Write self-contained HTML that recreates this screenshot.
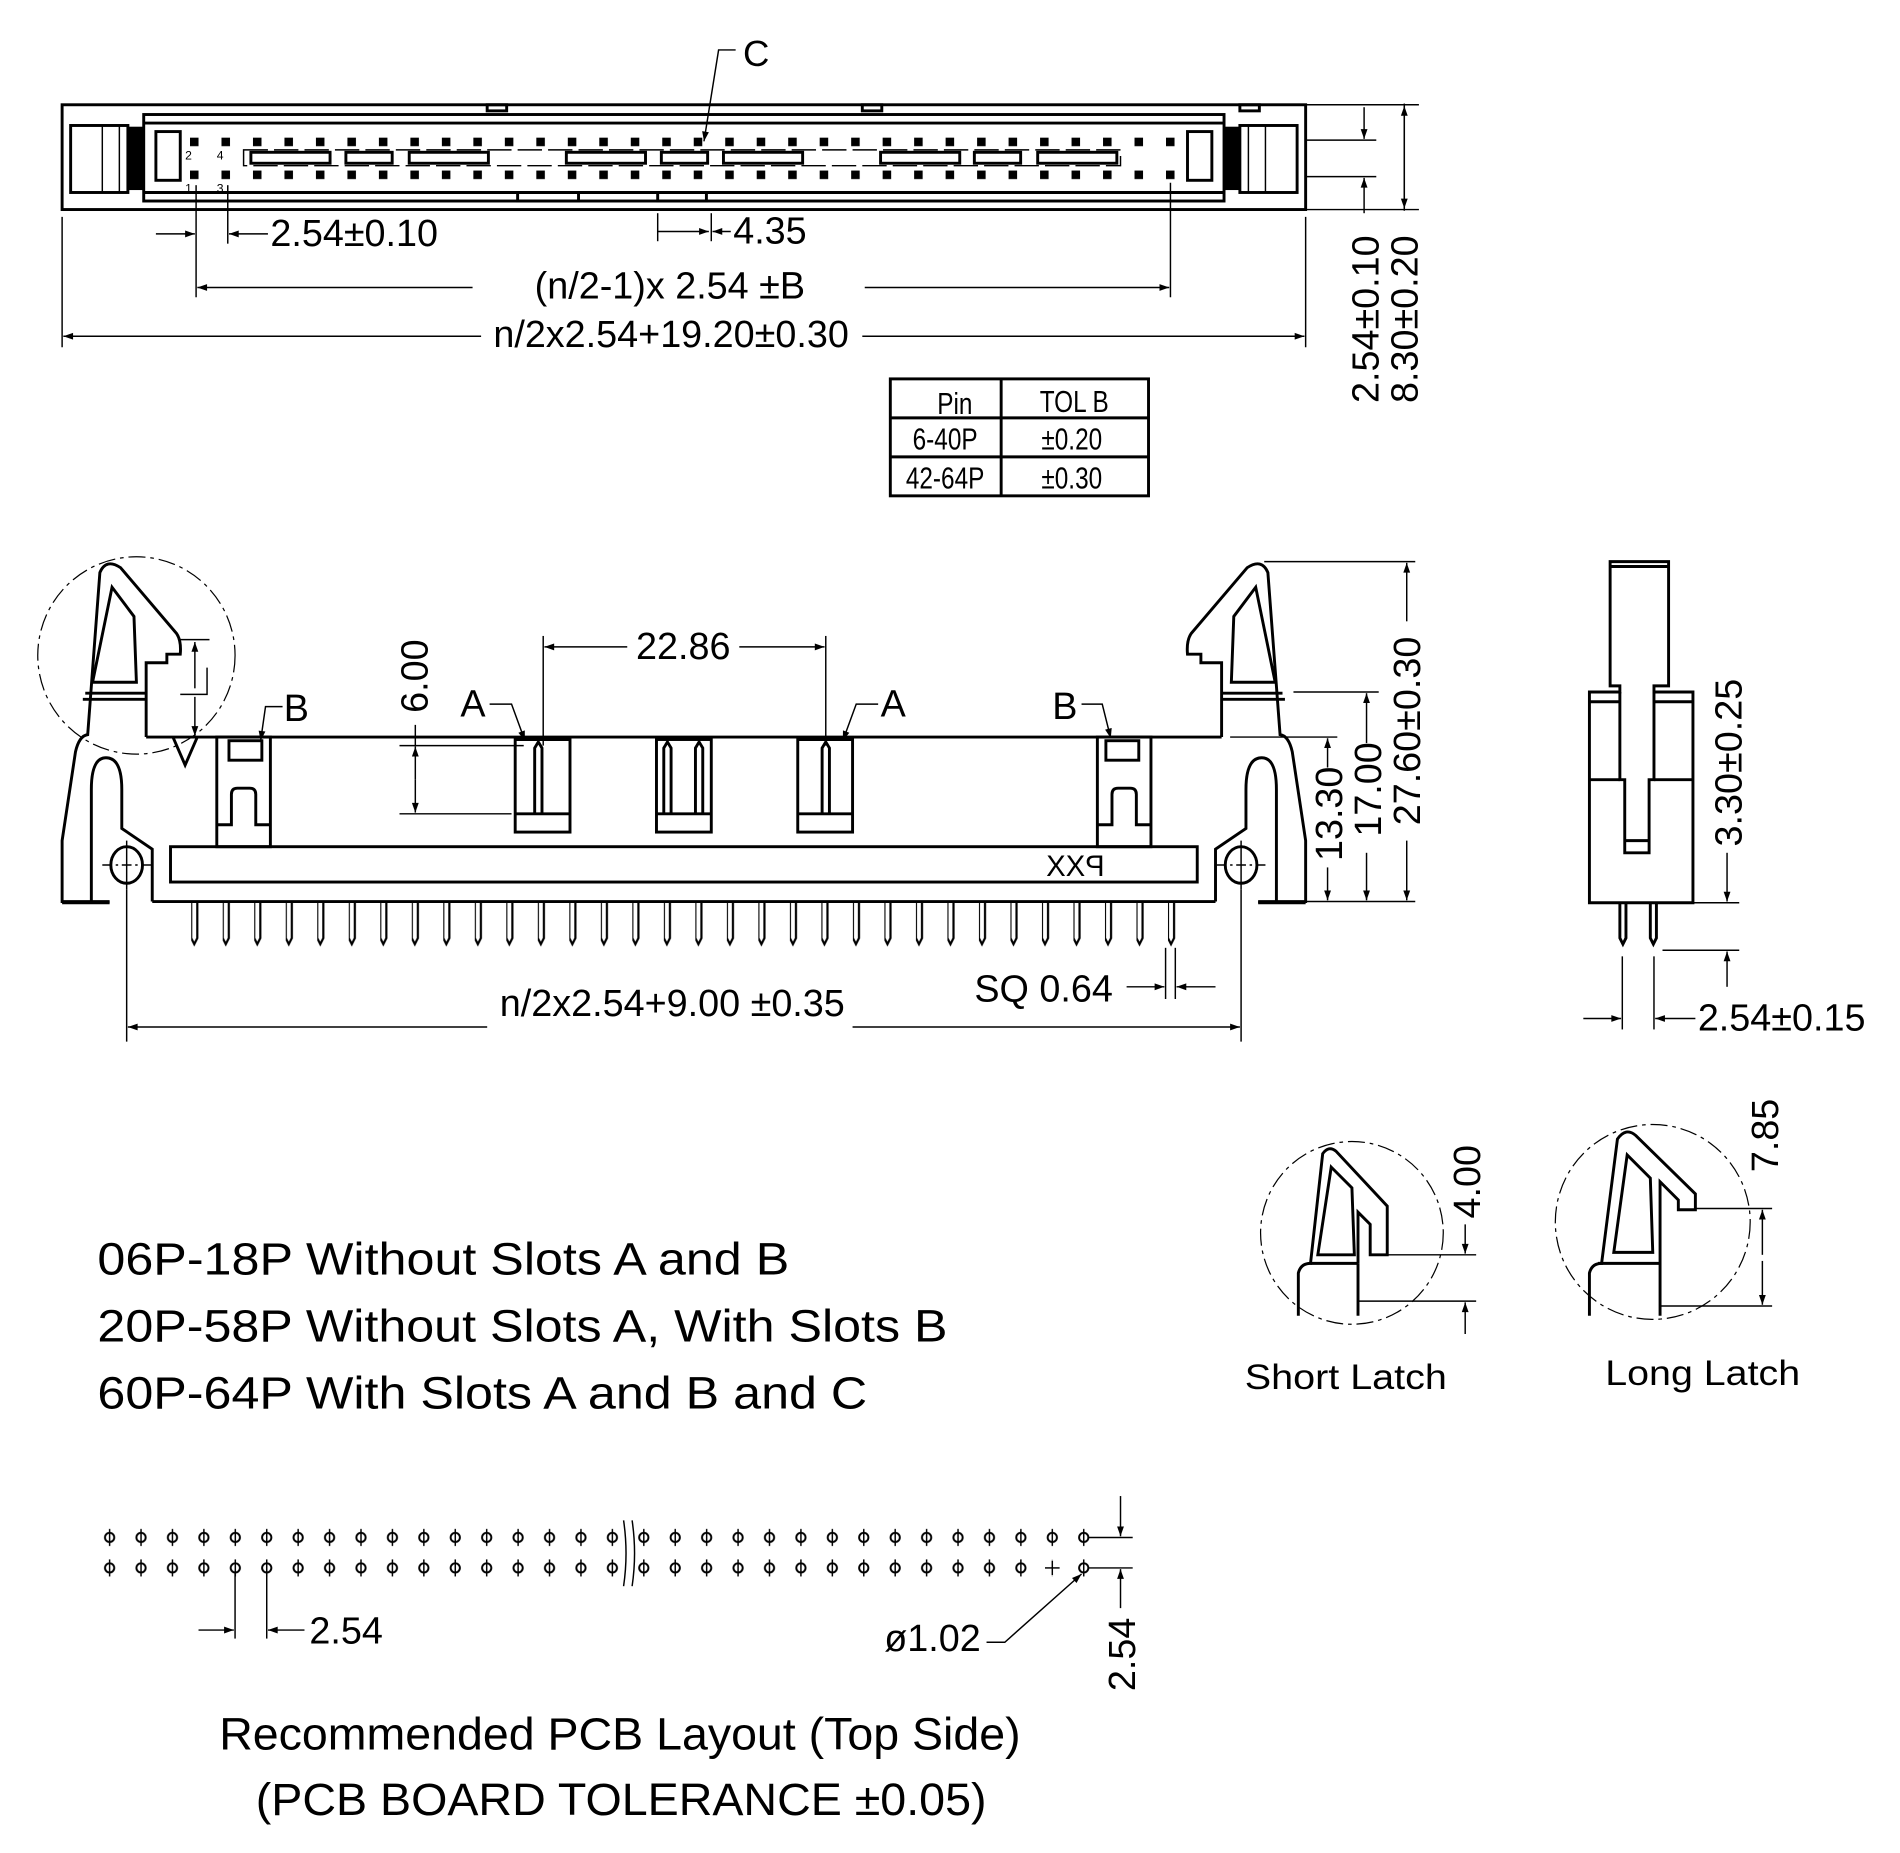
<!DOCTYPE html>
<html><head><meta charset="utf-8"><style>
html,body{margin:0;padding:0;background:#fff;}
svg{display:block;}
text{font-family:"Liberation Sans",Arial,sans-serif;fill:#000;}
.o{fill:none;stroke:#000;stroke-width:2.4;}
.t{fill:none;stroke:#000;stroke-width:1.2;}
.d{fill:none;stroke:#000;stroke-width:1;stroke-dasharray:14 4 3 4;}
</style></head><body>
<svg width="1900" height="1853" viewBox="0 0 1560 1521" preserveAspectRatio="none" xmlns="http://www.w3.org/2000/svg">
<defs>
<marker id="a" viewBox="0 0 10 10" refX="10" refY="5" markerWidth="16" markerHeight="8" markerUnits="userSpaceOnUse" orient="auto"><path d="M0,1.5 L10,5 L0,8.5Z" fill="#000"/></marker>
<pattern id="pins" x="157" y="0" width="25.87" height="800" patternUnits="userSpaceOnUse">
<path d="M0,740 V770 L2.5,775 L5,770 V740" fill="none" stroke="#000" stroke-width="1.8"/></pattern>
<pattern id="sq" x="156" y="0" width="25.85" height="200" patternUnits="userSpaceOnUse">
<rect x="0" y="113" width="7" height="7" fill="#000"/><rect x="0" y="140" width="7" height="7" fill="#000"/></pattern>
<pattern id="dots" x="77.1" y="0" width="25.8" height="1400" patternUnits="userSpaceOnUse">
<circle cx="12.9" cy="1262" r="3.8" fill="none" stroke="#000" stroke-width="1.6"/><line x1="12.9" y1="1255" x2="12.9" y2="1269" stroke="#000" stroke-width="1.2"/>
<circle cx="12.9" cy="1287" r="3.8" fill="none" stroke="#000" stroke-width="1.6"/><line x1="12.9" y1="1280" x2="12.9" y2="1294" stroke="#000" stroke-width="1.2"/></pattern>
</defs>

<!-- ===== TOP VIEW ===== -->
<rect class="o" x="51" y="86" width="1021" height="86"/>
<rect class="o" x="118" y="94" width="887" height="71"/>
<line class="o" x1="118" y1="101" x2="1005" y2="101" stroke-width="4"/>
<line class="o" x1="118" y1="158" x2="1005" y2="158" stroke-width="4"/>
<rect class="o" x="58" y="103" width="47" height="55"/>
<line class="t" x1="84" y1="103" x2="84" y2="158"/><line class="t" x1="98" y1="103" x2="98" y2="158"/>
<rect x="105" y="104" width="13" height="52" fill="#000"/>
<rect class="o" x="128" y="108" width="20" height="40" stroke-width="4"/>
<rect class="o" x="1018" y="103" width="47" height="55"/>
<line class="t" x1="1039" y1="103" x2="1039" y2="158"/><line class="t" x1="1025" y1="103" x2="1025" y2="158"/>
<rect x="1005" y="104" width="13" height="52" fill="#000"/>
<rect class="o" x="975" y="108" width="20" height="40" stroke-width="4"/>
<rect x="156" y="104" width="812" height="50" fill="url(#sq)"/>
<rect class="t" x="200" y="123" width="720" height="13" stroke-dasharray="20 5"/>
<rect class="o" x="206" y="125" width="65" height="9"/><rect class="o" x="284" y="125" width="38" height="9"/><rect class="o" x="336" y="125" width="65" height="9"/>
<rect class="o" x="465" y="125" width="65" height="9"/><rect class="o" x="543" y="125" width="38" height="9"/><rect class="o" x="594" y="125" width="65" height="9"/>
<rect class="o" x="723" y="125" width="65" height="9"/><rect class="o" x="800" y="125" width="38" height="9"/><rect class="o" x="852" y="125" width="65" height="9"/>
<text x="152" y="131" font-size="10" font-family="Liberation Serif">2</text><text x="178" y="131" font-size="10" font-family="Liberation Serif">4</text>
<text x="152" y="158" font-size="10" font-family="Liberation Serif">1</text><text x="178" y="158" font-size="10" font-family="Liberation Serif">3</text>
<rect class="o" x="400" y="86" width="16" height="5"/><rect class="o" x="708" y="86" width="16" height="5"/><rect class="o" x="1018" y="86" width="16" height="5"/>
<rect class="o" x="540" y="158" width="40" height="7" stroke-width="1.5"/><rect class="o" x="425" y="158" width="50" height="7" stroke-width="1.5"/>
<!-- C -->
<text x="610" y="54" font-size="30">C</text>
<polyline class="t" points="604,41 590,41 578,116" marker-end="url(#a)"/>
<!-- top dims -->
<line class="t" x1="51" y1="178" x2="51" y2="285"/>
<line class="t" x1="161" y1="152" x2="161" y2="244"/><line class="t" x1="187" y1="152" x2="187" y2="200"/>
<line class="t" x1="128" y1="192" x2="160" y2="192" marker-end="url(#a)"/><line class="t" x1="220" y1="192" x2="188" y2="192" marker-end="url(#a)"/>
<text x="222" y="202" font-size="31">2.54±0.10</text>
<line class="t" x1="540" y1="175" x2="540" y2="198"/><line class="t" x1="584" y1="175" x2="584" y2="198"/>
<line class="t" x1="540" y1="190" x2="582" y2="190" marker-end="url(#a)"/><line class="t" x1="600" y1="190" x2="585" y2="190" marker-end="url(#a)"/>
<text x="602" y="200" font-size="31">4.35</text>
<line class="t" x1="961" y1="150" x2="961" y2="244"/>
<line class="t" x1="388" y1="236" x2="162" y2="236" marker-end="url(#a)"/><line class="t" x1="710" y1="236" x2="960" y2="236" marker-end="url(#a)"/>
<text x="550" y="245" font-size="31" text-anchor="middle">(n/2-1)x 2.54 ±B</text>
<line class="t" x1="1072" y1="178" x2="1072" y2="285"/>
<line class="t" x1="395" y1="276" x2="52" y2="276" marker-end="url(#a)"/><line class="t" x1="708" y1="276" x2="1071" y2="276" marker-end="url(#a)"/>
<text x="551" y="285" font-size="31" text-anchor="middle">n/2x2.54+19.20±0.30</text>
<!-- right side dims top -->
<line class="t" x1="1072" y1="86" x2="1165" y2="86"/><line class="t" x1="1072" y1="172" x2="1165" y2="172"/>
<line class="t" x1="1072" y1="115" x2="1130" y2="115"/><line class="t" x1="1072" y1="145" x2="1130" y2="145"/>
<line class="t" x1="1120" y1="88" x2="1120" y2="114" marker-end="url(#a)"/><line class="t" x1="1120" y1="175" x2="1120" y2="146" marker-end="url(#a)"/>
<line class="t" x1="1153" y1="173" x2="1153" y2="87" marker-end="url(#a)"/><line class="t" x1="1153" y1="85" x2="1153" y2="171" marker-end="url(#a)"/>
<text transform="translate(1132,262) rotate(-90)" font-size="31" text-anchor="middle">2.54±0.10</text>
<text transform="translate(1164,262) rotate(-90)" font-size="31" text-anchor="middle">8.30±0.20</text>
<!-- table -->
<rect class="o" x="731" y="311" width="212" height="96"/>
<line class="o" x1="822" y1="311" x2="822" y2="407"/><line class="o" x1="731" y1="343" x2="943" y2="343"/><line class="o" x1="731" y1="375" x2="943" y2="375"/>
<text x="784" y="340" font-size="25" text-anchor="middle" transform="translate(784,0) scale(0.8,1) translate(-784,0)">Pin</text>
<text x="882" y="338" font-size="25" text-anchor="middle" transform="translate(882,0) scale(0.8,1) translate(-882,0)">TOL B</text>
<text x="776" y="369" font-size="25" text-anchor="middle" transform="translate(776,0) scale(0.8,1) translate(-776,0)">6-40P</text>
<text x="880" y="369" font-size="25" text-anchor="middle" transform="translate(880,0) scale(0.8,1) translate(-880,0)">±0.20</text>
<text x="776" y="401" font-size="25" text-anchor="middle" transform="translate(776,0) scale(0.8,1) translate(-776,0)">42-64P</text>
<text x="880" y="401" font-size="25" text-anchor="middle" transform="translate(880,0) scale(0.8,1) translate(-880,0)">±0.30</text>

<!-- ===== FRONT VIEW ===== -->
<g id="lat">
<path class="o" d="M90,740 H51 V690 L62,617 Q65,604 72,603 L82,470 Q87,458 99,466 L145,520 Q149,526 148,537 H137 V544 H120 V605"/>
<polygon class="o" points="92,482 110,506 112,560 76,560"/>
<line class="o" x1="70" y1="569" x2="120" y2="569"/><line class="o" x1="68" y1="574" x2="120" y2="574"/>
<path class="o" d="M75,740 V648 Q75,622 87,622 Q100,622 100,648 V680 L125,697 V740"/>
<ellipse class="o" cx="104" cy="710" rx="13" ry="15"/>
<line class="t" x1="104" y1="690" x2="104" y2="730"/><line class="t" x1="84" y1="710" x2="124" y2="710" stroke-dasharray="8 3 2 3"/>
<line class="o" x1="51" y1="741" x2="90" y2="741" stroke-width="4"/>
<rect class="o" x="178" y="605" width="44" height="90"/>
<rect class="o" x="188" y="608" width="27" height="16" stroke-width="3"/>
<path class="o" d="M178,677 H190 V652 Q190,647 195,647 H205 Q210,647 210,652 V677 H222" stroke-width="3"/>
</g>
<use href="#lat" transform="translate(1123,0) scale(-1,1)"/>
<polyline class="o" points="142,605 152,628 162,605"/>
<line class="t" x1="104" y1="730" x2="104" y2="855"/>
<line class="t" x1="1019" y1="730" x2="1019" y2="855"/>
<circle class="d" cx="112" cy="538" r="81"/>
<line class="t" x1="148" y1="525" x2="172" y2="525"/><line class="t" x1="160" y1="565" x2="160" y2="527" marker-end="url(#a)"/>
<polyline class="t" points="148,570 170,570 170,548"/><line class="t" x1="160" y1="572" x2="160" y2="604" marker-end="url(#a)"/>
<line class="o" x1="120" y1="605" x2="1003" y2="605"/>
<rect class="o" x="140" y="695" width="843" height="29"/>
<line class="o" x1="125" y1="740" x2="998" y2="740"/>
<text x="0" y="0" font-size="24" transform="translate(907,719) scale(-1,1)">PXX</text>
<rect x="152" y="740" width="820" height="40" fill="url(#pins)"/>
<!-- A slots -->
<rect class="o" x="423" y="607" width="45" height="76"/><line class="o" x1="423" y1="668" x2="468" y2="668"/>
<path class="o" d="M439,668 V614 L442,609 L445,614 V668" stroke-width="2"/>
<rect class="o" x="539" y="607" width="45" height="76"/><line class="o" x1="539" y1="668" x2="584" y2="668"/>
<path class="o" d="M545,668 V614 L548,609 L551,614 V668" stroke-width="2"/><path class="o" d="M571,668 V614 L574,609 L577,614 V668" stroke-width="2"/>
<rect class="o" x="655" y="607" width="45" height="76"/><line class="o" x1="655" y1="668" x2="700" y2="668"/>
<path class="o" d="M675,668 V614 L678,609 L681,614 V668" stroke-width="2"/>
<line class="o" x1="423" y1="607" x2="468" y2="607" stroke-width="4"/><line class="o" x1="655" y1="607" x2="700" y2="607" stroke-width="4"/>
<!-- 22.86 -->
<line class="t" x1="446" y1="522" x2="446" y2="612"/><line class="t" x1="678" y1="522" x2="678" y2="612"/>
<line class="t" x1="515" y1="531" x2="447" y2="531" marker-end="url(#a)"/><line class="t" x1="607" y1="531" x2="677" y2="531" marker-end="url(#a)"/>
<text x="561" y="541" font-size="31" text-anchor="middle">22.86</text>
<!-- 6.00 -->
<line class="t" x1="328" y1="612" x2="430" y2="612"/><line class="t" x1="328" y1="668" x2="420" y2="668"/>
<line class="t" x1="341" y1="595" x2="341" y2="613" /><line class="t" x1="341" y1="640" x2="341" y2="613" marker-end="url(#a)"/><line class="t" x1="341" y1="640" x2="341" y2="667" marker-end="url(#a)"/>
<text transform="translate(351,555) rotate(-90)" font-size="31" text-anchor="middle">6.00</text>
<!-- labels -->
<text x="378" y="588" font-size="31">A</text><polyline class="t" points="402,578 420,578 431,608" marker-end="url(#a)"/>
<text x="723" y="588" font-size="31">A</text><polyline class="t" points="721,578 703,578 692,608" marker-end="url(#a)"/>
<text x="233" y="592" font-size="31">B</text><polyline class="t" points="232,580 218,580 214,608" marker-end="url(#a)"/>
<text x="864" y="590" font-size="31">B</text><polyline class="t" points="888,578 905,578 912,606" marker-end="url(#a)"/>
<!-- right dims -->
<line class="t" x1="1038" y1="461" x2="1162" y2="461"/><line class="t" x1="1062" y1="568" x2="1132" y2="568"/>
<line class="t" x1="1010" y1="605" x2="1098" y2="605"/><line class="t" x1="1072" y1="740" x2="1162" y2="740"/>
<line class="t" x1="1090" y1="630" x2="1090" y2="606" marker-end="url(#a)"/><line class="t" x1="1090" y1="712" x2="1090" y2="739" marker-end="url(#a)"/>
<line class="t" x1="1122" y1="610" x2="1122" y2="569" marker-end="url(#a)"/><line class="t" x1="1122" y1="700" x2="1122" y2="739" marker-end="url(#a)"/>
<line class="t" x1="1155" y1="510" x2="1155" y2="462" marker-end="url(#a)"/><line class="t" x1="1155" y1="690" x2="1155" y2="739" marker-end="url(#a)"/>
<text transform="translate(1102,668) rotate(-90)" font-size="31" text-anchor="middle">13.30</text>
<text transform="translate(1134,648) rotate(-90)" font-size="31" text-anchor="middle">17.00</text>
<text transform="translate(1166,600) rotate(-90)" font-size="31" text-anchor="middle">27.60±0.30</text>
<!-- bottom dims -->
<line class="t" x1="400" y1="843" x2="105" y2="843" marker-end="url(#a)"/><line class="t" x1="700" y1="843" x2="1018" y2="843" marker-end="url(#a)"/>
<text x="552" y="834" font-size="31" text-anchor="middle">n/2x2.54+9.00 ±0.35</text>
<line class="t" x1="957" y1="778" x2="957" y2="820"/><line class="t" x1="965" y1="778" x2="965" y2="820"/>
<line class="t" x1="925" y1="810" x2="956" y2="810" marker-end="url(#a)"/><line class="t" x1="998" y1="810" x2="966" y2="810" marker-end="url(#a)"/>
<text x="800" y="822" font-size="31">SQ 0.64</text>

<!-- ===== SIDE VIEW ===== -->
<path class="o" d="M1322,461 H1370 V563 H1358 V568 H1390 V741 H1305 V568 H1330 V563 H1322 Z"/>
<line class="o" x1="1322" y1="465" x2="1370" y2="465" stroke-width="1.5"/>
<path class="o" d="M1330,568 V640 H1334 V700 H1354 V640 H1358 V568"/>
<line class="o" x1="1305" y1="576" x2="1330" y2="576"/><line class="o" x1="1358" y1="576" x2="1390" y2="576"/>
<line class="o" x1="1305" y1="640" x2="1330" y2="640"/><line class="o" x1="1358" y1="640" x2="1390" y2="640"/>
<line class="o" x1="1334" y1="690" x2="1354" y2="690"/>
<path class="o" d="M1330,741 V770 L1332.5,775 L1335,770 V741 M1355,741 V770 L1357.5,775 L1360,770 V741" stroke-width="1.8"/>
<line class="t" x1="1390" y1="741" x2="1428" y2="741"/><line class="t" x1="1365" y1="780" x2="1428" y2="780"/>
<line class="t" x1="1418" y1="700" x2="1418" y2="740" marker-end="url(#a)"/><line class="t" x1="1418" y1="810" x2="1418" y2="781" marker-end="url(#a)"/>
<text transform="translate(1430,626) rotate(-90)" font-size="31" text-anchor="middle">3.30±0.25</text>
<line class="t" x1="1332" y1="785" x2="1332" y2="845"/><line class="t" x1="1358" y1="785" x2="1358" y2="845"/>
<line class="t" x1="1300" y1="836" x2="1331" y2="836" marker-end="url(#a)"/><line class="t" x1="1392" y1="836" x2="1359" y2="836" marker-end="url(#a)"/>
<text x="1394" y="846" font-size="31">2.54±0.15</text>

<!-- ===== LATCH DETAILS ===== -->
<circle class="d" cx="1110" cy="1012" r="75"/>
<path class="o" d="M1066,1080 V1045 Q1068,1037 1076,1037 L1086,947 Q1091,940 1097,945 L1139,990 V1030 H1125 V1005 L1115,995 V1037"/>
<polygon class="o" points="1093,958 1110,975 1112,1030 1082,1030"/>
<line class="o" x1="1076" y1="1037" x2="1115" y2="1037"/><line class="o" x1="1115" y1="1037" x2="1115" y2="1080"/>
<line class="t" x1="1140" y1="1030" x2="1212" y2="1030"/><line class="t" x1="1115" y1="1068" x2="1212" y2="1068"/>
<line class="t" x1="1203" y1="1005" x2="1203" y2="1029" marker-end="url(#a)"/><line class="t" x1="1203" y1="1095" x2="1203" y2="1069" marker-end="url(#a)"/>
<text transform="translate(1215,970) rotate(-90)" font-size="31" text-anchor="middle">4.00</text>
<text x="1022" y="1140" font-size="29" textLength="166" lengthAdjust="spacingAndGlyphs">Short Latch</text>

<circle class="d" cx="1357" cy="1003" r="80"/>
<path class="o" d="M1305,1080 V1045 Q1307,1037 1315,1037 L1328,935 Q1335,925 1343,932 L1392,980 V993 H1378 V985 L1363,970 V1080"/>
<polygon class="o" points="1336,948 1355,967 1357,1028 1325,1028"/>
<line class="o" x1="1312" y1="1037" x2="1363" y2="1037"/>
<line class="t" x1="1392" y1="992" x2="1455" y2="992"/><line class="t" x1="1363" y1="1072" x2="1455" y2="1072"/>
<line class="t" x1="1447" y1="1030" x2="1447" y2="993" marker-end="url(#a)"/><line class="t" x1="1447" y1="1035" x2="1447" y2="1071" marker-end="url(#a)"/>
<text transform="translate(1460,932) rotate(-90)" font-size="31" text-anchor="middle">7.85</text>
<text x="1318" y="1137" font-size="29" textLength="160" lengthAdjust="spacingAndGlyphs">Long Latch</text>

<!-- ===== NOTES ===== -->
<text x="80" y="1046" font-size="37" textLength="568" lengthAdjust="spacingAndGlyphs">06P-18P Without Slots A and B</text>
<text x="80" y="1101" font-size="37" textLength="698" lengthAdjust="spacingAndGlyphs">20P-58P Without Slots A, With Slots B</text>
<text x="80" y="1156" font-size="37" textLength="632" lengthAdjust="spacingAndGlyphs">60P-64P With Slots A and B and C</text>

<!-- ===== PCB ===== -->
<rect x="77" y="1250" width="826" height="50" fill="url(#dots)"/>
<rect x="857" y="1280" width="14" height="14" fill="#fff"/>
<line class="t" x1="858" y1="1287" x2="870" y2="1287"/><line class="t" x1="864" y1="1281" x2="864" y2="1293"/>
<path class="t" d="M512,1248 Q516,1275 512,1302 M519,1248 Q523,1275 519,1302"/>
<line class="t" x1="894" y1="1262" x2="930" y2="1262"/><line class="t" x1="894" y1="1287" x2="930" y2="1287"/>
<line class="t" x1="920" y1="1228" x2="920" y2="1261" marker-end="url(#a)"/><line class="t" x1="920" y1="1320" x2="920" y2="1288" marker-end="url(#a)"/>
<text transform="translate(932,1358) rotate(-90)" font-size="31" text-anchor="middle">2.54</text>
<line class="t" x1="193" y1="1290" x2="193" y2="1345"/><line class="t" x1="219" y1="1290" x2="219" y2="1345"/>
<line class="t" x1="163" y1="1338" x2="192" y2="1338" marker-end="url(#a)"/><line class="t" x1="250" y1="1338" x2="220" y2="1338" marker-end="url(#a)"/>
<text x="254" y="1349" font-size="31">2.54</text>
<text x="726" y="1355" font-size="31">ø1.02</text>
<polyline class="t" points="810,1348 825,1348 888,1292" marker-end="url(#a)"/>
<text x="180" y="1436" font-size="37" textLength="658" lengthAdjust="spacingAndGlyphs">Recommended PCB Layout (Top Side)</text>
<text x="210" y="1490" font-size="37" textLength="600" lengthAdjust="spacingAndGlyphs">(PCB BOARD TOLERANCE ±0.05)</text>
</svg>
</body></html>
